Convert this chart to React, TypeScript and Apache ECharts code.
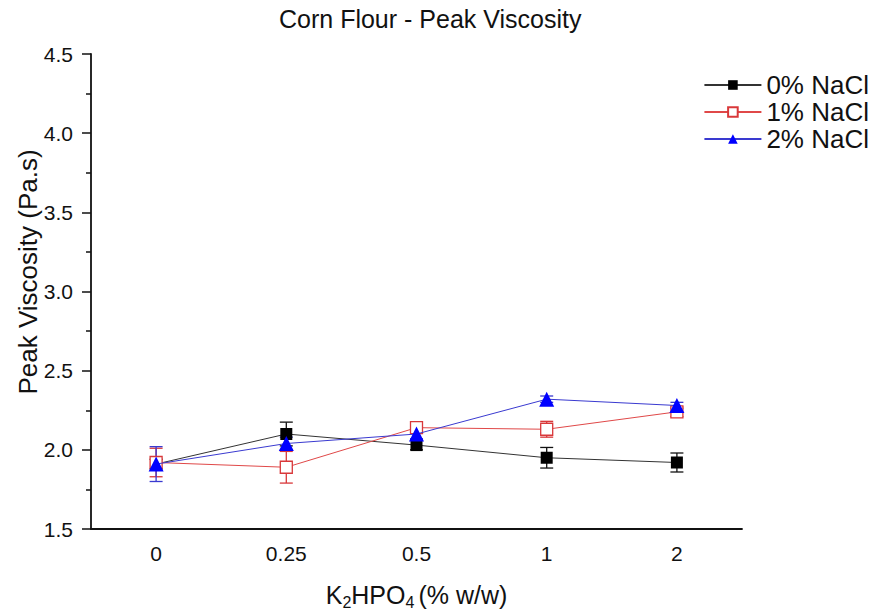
import React, { useEffect, useRef } from "react";
import * as echarts from "echarts";

const categories = ["0", "0.25", "0.5", "1", "2"];
const seriesNames = ["0% NaCl", "1% NaCl", "2% NaCl"];
const nacl0 = [1.91, 2.1, 2.03, 1.95, 1.92];
const nacl0Err = [0.03, 0.075, 0.03, 0.065, 0.06];
const nacl1 = [1.92, 1.89, 2.14, 2.13, 2.24];
const nacl1Err = [0.09, 0.1, 0.03, 0.05, 0.03];
const nacl2 = [1.91, 2.04, 2.1, 2.32, 2.28];
const nacl2Err = [0.11, 0.04, 0.03, 0.02, 0.02];
const yTicks = { min: 1.5, max: 4.5, interval: 0.5 };
const yAxisTitle = "Peak Viscosity (Pa.s)";

const FONT = "Liberation Sans";

function errData(vals: number[], errs: number[]) {
  return vals.map((v, i) => [i, v - errs[i], v + errs[i]]);
}

function errSeries(vals: number[], errs: number[], color: string) {
  return {
    type: "custom",
    silent: true,
    z: 3,
    data: errData(vals, errs),
    encode: { x: 0, y: [1, 2] },
    renderItem: (params: any, api: any) => {
      const x = api.value(0);
      const lo = api.coord([x, api.value(1)]);
      const hi = api.coord([x, api.value(2)]);
      const hw = 6.5;
      const style = { stroke: color, lineWidth: 1.3 };
      return {
        type: "group",
        children: [
          { type: "line", shape: { x1: lo[0], y1: lo[1], x2: hi[0], y2: hi[1] }, style },
          { type: "line", shape: { x1: lo[0] - hw, y1: lo[1], x2: lo[0] + hw, y2: lo[1] }, style },
          { type: "line", shape: { x1: hi[0] - hw, y1: hi[1], x2: hi[0] + hw, y2: hi[1] }, style },
        ],
      };
    },
  };
}

export default function App() {
  const ref = useRef<HTMLDivElement>(null);
  useEffect(() => {
    if (!ref.current) return;
    const chart = echarts.init(ref.current, null, { renderer: "svg" });
    chart.setOption({
      animation: false,
      backgroundColor: "#ffffff",
      textStyle: { fontFamily: FONT },
      title: {
        text: "Corn Flour - Peak Viscosity",
        left: 274,
        top: 1,
        textStyle: { fontFamily: FONT, fontSize: 25, fontWeight: "normal", color: "#111" },
      },
      legend: {
        orient: "vertical",
        right: 4,
        top: 67,
        itemWidth: 57,
        itemHeight: 12,
        itemGap: 1,
        data: seriesNames,
        textStyle: { fontFamily: FONT, fontSize: 26, color: "#111" },
      },
      graphic: [
        {
          type: "text",
          x: 28,
          y: 272,
          rotation: Math.PI / 2,
          style: {
            text: yAxisTitle,
            fontFamily: FONT,
            fontSize: 26,
            fill: "#111",
            align: "center",
            verticalAlign: "middle",
          },
        },
      ],
      grid: { left: 91, right: 136, top: 54, bottom: 82, containLabel: false },
      xAxis: [
        {
          type: "category",
          data: categories,
          boundaryGap: true,
          name: "{n|K}{a|2}{n|HPO}{b|4}{n|(% w/w)}",
          nameLocation: "middle",
          nameGap: 51,
          nameTextStyle: {
            rich: {
              n: { fontFamily: FONT, fontSize: 25, color: "#111" },
              a: { fontFamily: FONT, fontSize: 16, color: "#111", verticalAlign: "bottom", padding: [14, 0, 0, 0] },
              b: { fontFamily: FONT, fontSize: 16, color: "#111", verticalAlign: "bottom", padding: [14, 4, 0, 0] },
            },
          },
          axisLine: { lineStyle: { color: "#111", width: 1.8 } },
          axisTick: { alignWithLabel: true, inside: false, length: 10, lineStyle: { color: "#111", width: 1.5 } },
          axisLabel: { fontFamily: FONT, fontSize: 21, color: "#111", margin: 14 },
          splitLine: { show: false },
        },
        {
          type: "category",
          data: categories,
          boundaryGap: true,
          position: "bottom",
          axisLine: { show: false },
          axisTick: { alignWithLabel: false, length: 5, lineStyle: { color: "#111", width: 1.5 } },
          axisLabel: { show: false },
          splitLine: { show: false },
        },
      ],
      yAxis: {
        type: "value",
        min: yTicks.min,
        max: yTicks.max,
        interval: yTicks.interval,
        axisLine: { show: true, lineStyle: { color: "#111", width: 1.8 } },
        axisTick: { show: true, length: 9, lineStyle: { color: "#111", width: 1.5 } },
        minorTick: { show: true, splitNumber: 2, length: 5, lineStyle: { color: "#111", width: 1.5 } },
        axisLabel: {
          fontFamily: FONT,
          fontSize: 21,
          color: "#111",
          margin: 18,
          formatter: (v: number) => v.toFixed(1),
        },
        splitLine: { show: false },
      },
      series: [
        {
          name: seriesNames[0],
          type: "line",
          data: nacl0,
          symbol: "rect",
          symbolSize: 12,
          z: 4,
          itemStyle: { color: "#000000" },
          lineStyle: { color: "#333333", width: 1 },
        },
        {
          name: seriesNames[1],
          type: "line",
          data: nacl1,
          symbol: "rect",
          symbolSize: 12,
          z: 5,
          itemStyle: { color: "#ffffff", borderColor: "#d9383a", borderWidth: 1.3 },
          lineStyle: { color: "#e04848", width: 1 },
        },
        {
          name: seriesNames[2],
          type: "line",
          data: nacl2,
          symbol: "triangle",
          symbolSize: 15,
          z: 6,
          itemStyle: { color: "#0000ff" },
          lineStyle: { color: "#3a3ad0", width: 1 },
        },
        errSeries(nacl0, nacl0Err, "#111111"),
        errSeries(nacl1, nacl1Err, "#d9383a"),
        errSeries(nacl2, nacl2Err, "#3a3ad0"),
      ],
    });
    return () => chart.dispose();
  }, []);
  return (
    <div
      ref={ref}
      style={{ position: "fixed", left: 0, top: 0, width: 878, height: 615 }}
    />
  );
}
